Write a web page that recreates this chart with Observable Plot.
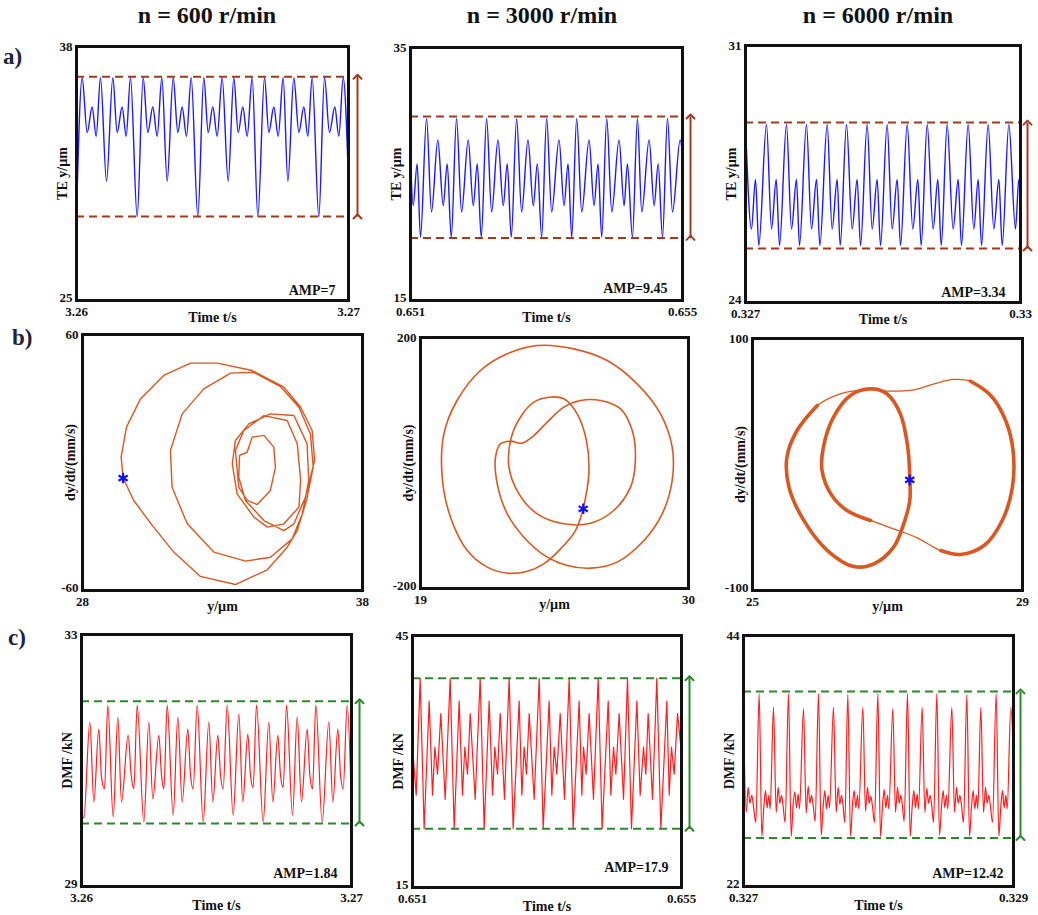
<!DOCTYPE html>
<html><head><meta charset="utf-8">
<script src="https://cdn.jsdelivr.net/npm/d3@7"></script>
<script src="https://cdn.jsdelivr.net/npm/@observablehq/plot@0.6"></script>
<style>
body{margin:0;background:#fff;}
#root{position:relative;width:1038px;height:915px;overflow:hidden;font-family:"Liberation Serif",serif;font-weight:bold;color:#111;}
.h{position:absolute;width:300px;text-align:center;font-size:24px;line-height:26px;}
.r{position:absolute;font-size:23px;line-height:24px;color:#1c2340;}
</style></head><body><div id="root">
<div class="h" style="left:57px;top:2px">n = 600 r/min</div>
<div class="h" style="left:392px;top:2px">n = 3000 r/min</div>
<div class="h" style="left:728px;top:2px">n = 6000 r/min</div>
<div class="r" style="left:3px;top:45px">a)</div>
<div class="r" style="left:12px;top:326px">b)</div>
<div class="r" style="left:8px;top:626px">c)</div>
</div>
<script>
// ---------- data ----------
const headers = ["n = 600 r/min", "n = 3000 r/min", "n = 6000 r/min"];
const xDomains = [[3.26, 3.27], [0.651, 0.655], [0.327, 0.33]];
const dmfXDomains = [[3.26, 3.27], [0.651, 0.655], [0.327, 0.329]];
const teYDomains = [[25, 38], [15, 35], [24, 31]];
const phX = [[28, 38], [19, 30], [25, 29]];
const phY = [[-60, 60], [-200, 200], [-100, 100]];
const dmfYDomains = [[29, 33], [15, 45], [22, 44]];
const teAmpLabels = ["AMP=7", "AMP=9.45", "AMP=3.34"];
const dmfAmpLabels = ["AMP=1.84", "AMP=17.9", "AMP=12.42"];
const teAmpHi = [36.45, 29.55, 28.9];
const teAmpLo = [29.3, 19.95, 25.47];
const dmfAmpHi = [31.94, 39.92, 39.1];
const dmfAmpLo = [30.0, 22.0, 26.25];

// TE 600 r/min (time offset in ms from 3.26 s, value µm)
const te600_ms = [0,0.208,0.392,0.576,0.723,0.882,1.103,1.336,1.495,1.679,1.826,1.985,2.230,2.451,2.623,2.806,2.966,3.137,3.333,3.554,3.725,3.885,4.044,4.216,4.461,4.681,4.841,5.012,5.172,5.355,5.576,5.784,5.944,6.115,6.275,6.458,6.667,6.912,7.071,7.255,7.414,7.598,7.770,7.990,8.174,8.358,8.505,8.664,8.909,9.118,9.301,9.498,9.645,9.804,10];
const te600_v = [29.4,36.4,33.6,34.9,33.4,36.4,31.1,36.4,33.6,34.9,33.4,36.4,29.3,36.4,33.6,34.9,33.4,36.4,31.1,36.4,33.6,34.9,33.4,36.4,29.3,36.4,33.6,34.9,33.4,36.4,31.1,36.4,33.6,34.9,33.4,36.4,29.3,36.4,33.6,34.9,33.4,36.4,31.1,36.4,33.6,34.9,33.4,36.4,29.3,36.4,33.6,34.9,33.4,36.4,31.1];
// TE 3000 r/min (ms from 0.651 s)
const te3000_ms = [0,0.039,0.098,0.147,0.236,0.309,0.402,0.481,0.540,0.599,0.677,0.751,0.849,0.923,0.982,1.040,1.119,1.193,1.286,1.364,1.423,1.482,1.561,1.634,1.728,1.806,1.865,1.929,2.002,2.076,2.184,2.258,2.317,2.371,2.444,2.518,2.626,2.699,2.758,2.812,2.886,2.960,3.067,3.141,3.190,3.264,3.337,3.401,3.509,3.583,3.642,3.706,3.779,3.853,3.966,4.0];
const te3000_v = [26.3,22.5,25.8,20.0,29.4,22.0,27.7,22.5,25.8,20.0,29.4,22.0,27.7,22.5,25.8,20.0,29.4,22.0,27.7,22.5,25.8,20.0,29.4,22.0,27.7,22.5,25.8,20.0,29.4,22.0,27.7,22.5,25.8,20.0,29.4,22.0,27.7,22.5,25.8,20.0,29.4,22.0,27.7,22.5,25.8,20.0,29.4,22.0,27.7,22.5,25.8,20.0,29.4,22.0,27.7,26.5];
// TE 6000 r/min (ms from 0.327 s)
const te6000_ms = [0,0.065,0.109,0.145,0.229,0.284,0.335,0.371,0.447,0.502,0.556,0.589,0.665,0.720,0.775,0.811,0.891,0.945,1.000,1.033,1.102,1.164,1.218,1.255,1.327,1.382,1.436,1.473,1.545,1.600,1.655,1.691,1.764,1.825,1.880,1.916,1.982,2.047,2.098,2.135,2.200,2.265,2.320,2.356,2.429,2.491,2.538,2.575,2.647,2.709,2.764,2.800,2.873,2.945,2.982,3.0];
const te6000_v = [28.85,26.0,27.35,25.55,28.85,26.0,27.35,25.55,28.85,26.0,27.35,25.55,28.85,26.0,27.35,25.55,28.85,26.0,27.35,25.55,28.85,26.0,27.35,25.55,28.85,26.0,27.35,25.55,28.85,26.0,27.35,25.55,28.85,26.0,27.35,25.55,28.85,26.0,27.35,25.55,28.85,26.0,27.35,25.55,28.85,26.0,27.35,25.55,28.85,26.0,27.35,25.55,28.85,26.0,27.35,27.3];

// Phase portraits: y (µm), dy/dt (mm/s)
const ph600_y = [29.45,29.83,30.49,31.26,32.21,33.46,34.60,35.31,35.67,36.00,36.24,36.14,35.73,35.07,34.12,33.29,32.33,31.56,31.14,31.20,31.74,32.69,33.82,34.71,35.49,35.85,36.08,36.02,35.55,34.71,33.94,33.46,33.35,33.52,34.12,34.60,35.19,35.73,35.79,35.67,35.31,34.48,33.76,33.46,33.58,33.88,34.24,34.71,34.89,34.83,34.48,34.06,33.88,33.61,33.58,33.82,34.48,35.19,35.55,35.96,36.29,36.20,35.79,35.19,34.06,32.81,31.86,30.90,30.07,29.57,29.38,29.45];
const ph600_v = [-7.3,-17.8,-29.5,-42.0,-53.4,-57.2,-50.3,-39.7,-31.9,-17.8,-2.2,13.4,25.9,35.6,42.3,41.9,34.5,22.8,5.6,-11.6,-28.75,-42.0,-46.25,-44.4,-35.8,-24.1,-8.4,8.75,22.0,22.8,18.1,10.3,-0.6,-14.7,-25.6,-30.3,-28.75,-20.9,-8.4,8.75,19.7,22.0,15.0,5.6,-11.6,-17.8,-19.7,-13.1,-2.2,7.2,12.7,11.9,4.8,3.3,-6.9,-17.8,-27.2,-31.9,-28.75,-16.25,1.0,15.0,25.9,35.3,43.1,46.6,46.6,40.8,29.8,16.6,2.5,-7.3];
const ph3000_y = [25.68,25.36,24.75,24.06,23.38,22.56,21.74,20.92,20.23,19.89,19.96,20.50,21.46,22.56,23.79,25.29,26.66,27.89,28.85,29.33,29.33,28.92,28.17,27.07,25.98,25.02,24.20,23.24,22.56,22.15,22.08,22.28,22.69,23.17,23.65,24.20,24.88,25.57,26.39,27.21,27.69,27.82,27.62,26.93,25.98,24.88,23.79,23.04,22.63,22.72,23.10,23.65,24.27,24.88,25.43,25.81,25.91,25.68];
const ph3000_v = [-73.0,-107.6,-136.8,-160.7,-172.4,-175.6,-166.0,-139.4,-86.3,-22.6,46.5,99.6,147.4,174.0,187.3,181.9,163.3,126.2,78.4,25.2,-27.9,-81.0,-123.5,-158.0,-167.6,-163.3,-150.1,-118.2,-81.0,-33.2,9.3,30.5,34.8,31.6,43.8,65.1,89.0,99.6,99.6,86.3,51.8,4.0,-38.5,-75.7,-95.9,-96.9,-81.0,-49.1,-6.6,40.0,73.0,96.9,104.9,102.3,78.4,35.9,-17.3,-73.0];
// 6000: path split into thick (A, C, E) and thin (B, D) stretches
const ph6000_y = [27.33,27.30,27.19,26.99,26.75,26.45,26.20,26.05,26.03,26.16,26.40,26.75, 27.09,27.44, 27.79,28.08,28.43,28.70,28.85,28.86,28.75,28.53,28.23, 27.98,27.69,27.39,27.04,26.65,26.30, 25.96,25.66,25.51,25.54,25.76,26.11,26.50,26.80,27.09,27.24,27.33,27.33];
const ph6000_v = [-12.2,13.8,40.2,56.1,60.1,54.8,37.6,13.8,-4.8,-23.3,-36.5,-44.4, -51.1,-58.2, -68.3,-71.4,-64.3,-44.4,-18.0,11.1,34.9,54.8,66.1, 67.5,64.0,59.3,58.2,59.3,56.1, 46.8,27.0,5.8,-18.0,-44.4,-68.3,-81.0,-78.8,-65.6,-47.1,-28.6,-12.2];
const ph6000_seg = ["A","A","A","A","A","A","A","A","A","A","A","A", "B","B", "C","C","C","C","C","C","C","C","C", "D","D","D","D","D","D", "E","E","E","E","E","E","E","E","E","E","E","E"];
const starY = [29.45, 25.68, 27.33];
const starV = [-7.3, -73.0, -12.2];

// DMF 600 (ms from 3.26 s, kN)
const dmf600_ms = [0,0.086,0.309,0.457,0.642,0.741,0.852,0.975,1.173,1.346,1.481,1.728,1.84,1.938,2.062,2.309,2.494,2.642,2.864,2.963,3.049,3.173,3.395,3.568,3.728,3.938,4.037,4.136,4.284,4.506,4.716,4.864,5.049,5.148,5.247,5.395,5.617,5.827,5.975,6.16,6.259,6.358,6.481,6.728,6.938,7.086,7.272,7.37,7.469,7.593,7.815,7.988,8.148,8.358,8.457,8.556,8.679,8.914,9.160,9.309,9.494,9.593,9.691,9.840,10];
const dmf600_v = [30.26,30.08,31.61,30.34,31.50,30.73,30.55,31.88,30.10,31.69,30.34,31.40,30.77,30.55,31.88,30.02,31.61,30.39,31.40,30.77,30.55,31.88,30.13,31.69,30.34,31.50,30.77,30.55,31.88,30.02,31.61,30.34,31.40,30.77,30.55,31.88,30.13,31.74,30.34,31.42,30.77,30.57,31.88,30.02,31.61,30.34,31.40,30.77,30.57,31.88,30.13,31.69,30.34,31.50,30.77,30.55,31.88,30.02,31.61,30.34,31.50,30.77,30.55,31.88,30.26];
// DMF 3000 (ms from 0.651 s)
const dmf3000_ms = [0,0.055,0.114,0.173,0.248,0.297,0.332,0.372,0.421,0.486,0.560,0.620,0.694,0.743,0.778,0.818,0.858,0.932,1.006,1.066,1.140,1.190,1.224,1.264,1.304,1.368,1.437,1.497,1.586,1.626,1.660,1.695,1.735,1.809,1.884,1.943,2.032,2.072,2.107,2.146,2.196,2.260,2.330,2.389,2.478,2.518,2.543,2.582,2.627,2.691,2.761,2.820,2.910,2.949,2.989,3.024,3.073,3.138,3.197,3.256,3.336,3.385,3.435,3.470,3.504,3.569,3.633,3.693,3.782,3.817,3.851,3.891,3.941,4.0];
const dmf3000_v = [31.7,26.0,39.9,22.0,37.2,26.0,31.7,28.5,35.7,25.5,39.9,22.0,37.2,26.0,31.7,28.5,35.7,25.5,39.9,22.0,37.2,26.0,31.7,28.5,35.7,25.5,39.9,22.0,37.2,26.0,31.7,28.5,35.7,25.5,39.9,22.0,37.2,26.0,31.7,28.5,35.7,25.5,39.9,22.0,37.2,26.0,31.7,28.5,35.7,25.5,39.9,22.0,37.2,26.0,31.7,28.5,35.7,25.5,39.9,22.0,37.2,26.0,31.7,28.5,35.7,25.5,39.9,22.0,37.2,26.0,31.7,28.5,35.7,31.0];
// DMF 6000 (ms from 0.327 s)
const dmf6000_ms = [0,0.0198,0.0346,0.0469,0.0617,0.0741,0.0914,
0.1160,0.1358,0.1506,0.1630,0.1753,0.1877,0.1975,0.2222,0.2420,0.2568,0.2691,0.2815,0.2938,0.3086,
0.3333,0.3531,0.3679,0.3802,0.3926,0.4049,0.4148,0.4444,0.4642,0.4790,0.4914,0.5037,0.5160,0.5309,
0.5556,0.5753,0.5901,0.6025,0.6148,0.6272,0.6370,0.6667,0.6864,0.7012,0.7136,0.7259,0.7383,0.7506,
0.7728,0.7926,0.8074,0.8198,0.8321,0.8444,0.8543,0.8840,0.9037,0.9185,0.9309,0.9432,0.9556,0.9704,
0.9951,1.0148,1.0296,1.0420,1.0543,1.0667,1.0765,1.1062,1.1259,1.1407,1.1531,1.1654,1.1778,1.1901,
1.2148,1.2346,1.2494,1.2617,1.2741,1.2864,1.2963,1.3235,1.3432,1.3580,1.3704,1.3827,1.3951,1.4074,
1.4321,1.4519,1.4667,1.4790,1.4914,1.5037,1.5136,1.5432,1.5630,1.5778,1.5901,1.6025,1.6148,1.6296,
1.6543,1.6741,1.6889,1.7012,1.7136,1.7259,1.7358,1.7580,1.7778,1.7926,1.8049,1.8173,1.8296,1.8444,
1.8716,1.8914,1.9062,1.9185,1.9309,1.9432,1.9531,1.9802,2.0];
const dmf6000_v = [37.7,28.5,30.7,29.3,30.0,29.0,27.6,
38.9,26.4,29.0,30.4,28.9,30.0,28.8,37.7,28.5,30.7,29.3,30.0,29.0,27.6,
38.9,26.4,29.2,30.3,28.9,30.1,28.8,37.6,28.4,30.8,29.3,30.0,29.1,27.7,
38.9,26.5,29.0,30.4,28.8,30.0,28.9,37.7,28.5,30.7,29.2,30.0,29.0,27.6,
38.8,26.4,29.1,30.4,28.9,30.0,28.8,37.7,28.6,30.7,29.3,29.9,29.0,27.6,
38.9,26.4,29.0,30.5,28.9,30.0,28.8,37.6,28.5,30.7,29.3,30.0,29.0,27.7,
38.9,26.4,29.0,30.4,28.9,30.1,28.8,37.7,28.5,30.6,29.3,30.0,29.0,27.6,
38.9,26.5,29.0,30.4,28.9,30.0,28.8,37.7,28.5,30.7,29.3,30.0,29.1,27.6,
38.8,26.4,29.0,30.4,28.8,30.0,28.8,37.7,28.5,30.7,29.3,30.0,29.0,27.6,
38.9,26.4,29.0,30.4,28.9,30.0,28.8,37.7,33.5];

// ---------- helpers ----------
const root = document.getElementById("root");
const FONT = "'Liberation Serif', 'Times New Roman', serif";
const series = (t0, ms, v) => ms.map((m, i) => ({t: t0 + m / 1000, v: v[i]}));
const pts = (a, b, s) => a.map((x, i) => ({x, y: b[i], s: s ? s[i] : "all"}));

function panel({rect, xd, yd, xl, yl, marks, mr = 24, xlDy = 17, ylDx = -14, amp}) {
  const ML = 70, MT = 14, MB = 36;
  const fw = rect[2] - rect[0], fh = rect[3] - rect[1];
  const extra = [];
  if (amp) {
    extra.push(
      Plot.ruleY([amp.hi, amp.lo], {stroke: amp.color, strokeWidth: 2, strokeDasharray: "8,5"}),
      Plot.link([{x: xd[1], lo: amp.lo, hi: amp.hi}], {x1: "x", x2: "x", y1: "lo", y2: "hi", dx: amp.adx, stroke: amp.color, strokeWidth: 2, markerStart: "arrow", markerEnd: "arrow"}),
      Plot.text([amp.label], {frameAnchor: "bottom-right", textAnchor: "end", lineAnchor: "middle", dx: amp.tdx, dy: amp.tdy, fontSize: 14})
    );
  }
  const chart = Plot.plot({
    width: fw + ML + mr, height: fh + MT + MB,
    marginLeft: ML, marginRight: mr, marginTop: MT, marginBottom: MB,
    x: {domain: xd}, y: {domain: yd},
    style: {fontFamily: FONT, fontWeight: "bold", fontSize: "13px", overflow: "visible", background: "transparent", color: "#111"},
    marks: [
      ...marks,
      ...extra,
      Plot.frame({stroke: "#111", strokeWidth: 3}),
      Plot.axisX(xd, {tickSize: 0, tickPadding: 6, tickFormat: d => String(d), label: null}),
      Plot.axisY([yd[1]], {tickSize: 0, tickPadding: 4, tickFormat: d => String(d), label: null}),
      Plot.axisY([yd[0]], {tickSize: 0, tickPadding: 4, dy: -3, tickFormat: d => String(d), label: null}),
      Plot.text([xl], {frameAnchor: "bottom", dy: xlDy, lineAnchor: "middle", fontSize: 14}),
      Plot.text([yl], {frameAnchor: "left", dx: ylDx, rotate: -90, textAnchor: "middle", lineAnchor: "middle", fontSize: 14})
    ]
  });
  chart.style.position = "absolute";
  chart.style.left = (rect[0] - ML) + "px";
  chart.style.top = (rect[1] - MT) + "px";
  root.appendChild(chart);
}

const BLUE = "#1a1aff", BROWN = "#a3391c", GREEN = "#2a8a2a", RED = "#ff1e1e", ORANGE = "#dc571f";

// ---------- row a: TE ----------
const teData = [series(3.26, te600_ms, te600_v), series(0.651, te3000_ms, te3000_v), series(0.327, te6000_ms, te6000_v)];
const teRects = [[76, 46, 348, 300], [410, 47, 682, 300], [745, 45, 1020, 302]];
const teAmpPos = [{adx: 9, tdx: -13, tdy: -10}, {adx: 8, tdx: -15, tdy: -12}, {adx: 7, tdx: -15, tdy: -10}];
teData.forEach((d, i) => panel({
  rect: teRects[i], xd: xDomains[i], yd: teYDomains[i], xl: "Time t/s", yl: "TE y/µm",
  mr: i === 2 ? 16 : 24, xlDy: 17,
  marks: [Plot.line(d, {x: "t", y: "v", stroke: BLUE, strokeWidth: 1.4, curve: "monotone-x", clip: true})],
  amp: {hi: teAmpHi[i], lo: teAmpLo[i], color: BROWN, label: teAmpLabels[i], ...teAmpPos[i]}
}));

// ---------- row b: phase ----------
const phRects = [[82, 334, 362, 590], [420, 337, 688, 588], [752, 338, 1022, 590]];
const p600 = pts(ph600_y, ph600_v), p3000 = pts(ph3000_y, ph3000_v), p6000 = pts(ph6000_y, ph6000_v, ph6000_seg);
const starMark = i => Plot.dot([{x: starY[i], y: starV[i]}], {x: "x", y: "y", symbol: "asterisk", r: 5, stroke: "#1010ff", strokeWidth: 2.2});
panel({rect: phRects[0], xd: phX[0], yd: phY[0], xl: "y/µm", yl: "dy/dt/(mm/s)", xlDy: 16, ylDx: -12,
  marks: [Plot.line(p600, {x: "x", y: "y", stroke: ORANGE, strokeWidth: 1.4, curve: "linear"}), starMark(0)]});
panel({rect: phRects[1], xd: phX[1], yd: phY[1], xl: "y/µm", yl: "dy/dt/(mm/s)", xlDy: 16, ylDx: -12,
  marks: [Plot.line(p3000, {x: "x", y: "y", stroke: ORANGE, strokeWidth: 1.6, curve: "catmull-rom"}), starMark(1)]});
panel({rect: phRects[2], xd: phX[2], yd: phY[2], xl: "y/µm", yl: "dy/dt/(mm/s)", xlDy: 16, ylDx: -12, mr: 16,
  marks: [
    Plot.line(p6000, {x: "x", y: "y", stroke: ORANGE, strokeWidth: 1.3, curve: "catmull-rom"}),
    Plot.line(p6000.filter(p => p.s === "A" || p.s === "C" || p.s === "E"), {x: "x", y: "y", z: "s", stroke: ORANGE, strokeWidth: 3.6, curve: "catmull-rom"}),
    starMark(2)
  ]});

// ---------- row c: DMF ----------
const dmfData = [series(3.26, dmf600_ms, dmf600_v), series(0.651, dmf3000_ms, dmf3000_v), series(0.327, dmf6000_ms, dmf6000_v)];
const dmfRects = [[81, 634, 351, 886], [412, 635, 681, 887], [743, 635, 1013, 886]];
const dmfAmpPos = [{adx: 8, tdx: -14, tdy: -13}, {adx: 8, tdx: -13, tdy: -20}, {adx: 7, tdx: -10, tdy: -13}];
const dmfCurves = ["monotone-x", "linear", "monotone-x"];
dmfData.forEach((d, i) => panel({
  rect: dmfRects[i], xd: dmfXDomains[i], yd: dmfYDomains[i], xl: "Time t/s", yl: "DMF /kN",
  mr: i === 2 ? 22 : 24, xlDy: 19,
  marks: [Plot.line(d, {x: "t", y: "v", stroke: RED, strokeWidth: 1.2, curve: dmfCurves[i], clip: true})],
  amp: {hi: dmfAmpHi[i], lo: dmfAmpLo[i], color: GREEN, label: dmfAmpLabels[i], ...dmfAmpPos[i]}
}));
</script></body></html>
